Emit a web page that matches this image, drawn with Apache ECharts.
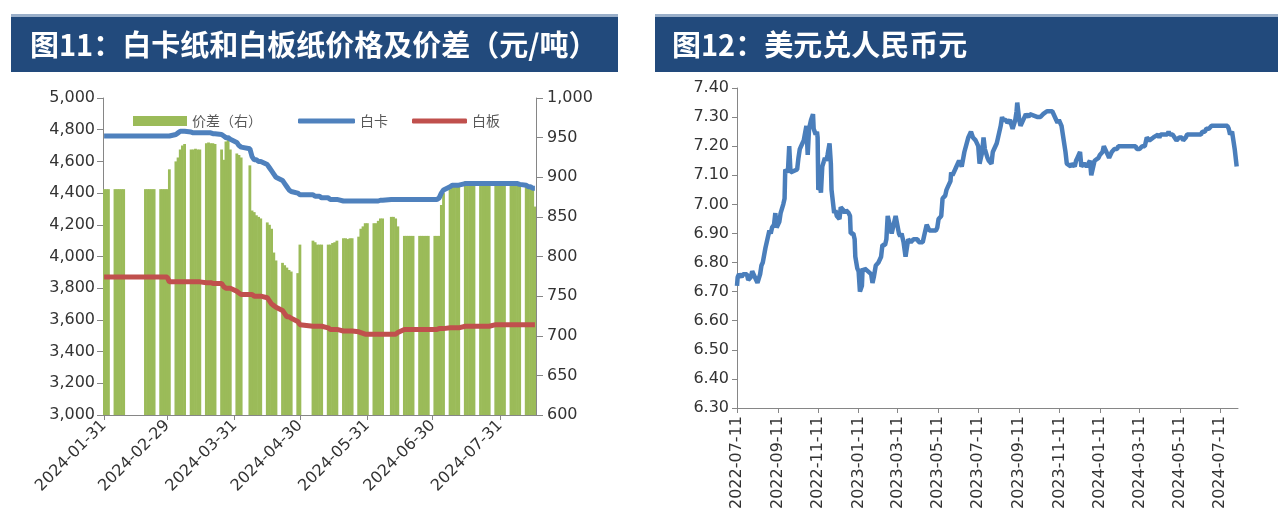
<!DOCTYPE html>
<html><head><meta charset="utf-8">
<script src="https://cdn.jsdelivr.net/npm/echarts@6/dist/echarts.min.js"></script>
<style>html,body{margin:0;padding:0;background:#fff;}#c{width:1278px;height:531px;}</style>
</head><body><div id="c"></div>
<script>
// ---------- Left chart (图11) ----------
const leftTitle = '图11：白卡纸和白板纸价格及价差（元/吨）';
const leftTickLabels = ['2024-01-31','2024-02-29','2024-03-31','2024-04-30','2024-05-31','2024-06-30','2024-07-31'];
const leftAxisStart = '2024-01-31';
const leftAxisEnd = '2024-08-16';
const leftDates = [
 '2024-01-31','2024-02-01','2024-02-02',
 '2024-02-05','2024-02-06','2024-02-07','2024-02-08','2024-02-09',
 '2024-02-19','2024-02-20','2024-02-21','2024-02-22','2024-02-23',
 '2024-02-26','2024-02-27','2024-02-28','2024-02-29','2024-03-01',
 '2024-03-04','2024-03-05','2024-03-06','2024-03-07','2024-03-08',
 '2024-03-11','2024-03-12','2024-03-13','2024-03-14','2024-03-15',
 '2024-03-18','2024-03-19','2024-03-20','2024-03-21','2024-03-22',
 '2024-03-25','2024-03-26','2024-03-27','2024-03-28','2024-03-29',
 '2024-04-01','2024-04-02','2024-04-03','2024-04-07',
 '2024-04-08','2024-04-09','2024-04-10','2024-04-11','2024-04-12',
 '2024-04-15','2024-04-16','2024-04-17','2024-04-18','2024-04-19',
 '2024-04-22','2024-04-23','2024-04-24','2024-04-25','2024-04-26',
 '2024-04-29','2024-04-30',
 '2024-05-06','2024-05-07','2024-05-08','2024-05-09','2024-05-10',
 '2024-05-13','2024-05-14','2024-05-15','2024-05-16','2024-05-17',
 '2024-05-20','2024-05-21','2024-05-22','2024-05-23','2024-05-24',
 '2024-05-27','2024-05-28','2024-05-29','2024-05-30','2024-05-31',
 '2024-06-03','2024-06-04','2024-06-05','2024-06-06','2024-06-07',
 '2024-06-11','2024-06-12','2024-06-13','2024-06-14',
 '2024-06-17','2024-06-18','2024-06-19','2024-06-20','2024-06-21',
 '2024-06-24','2024-06-25','2024-06-26','2024-06-27','2024-06-28',
 '2024-07-01','2024-07-02','2024-07-03','2024-07-04','2024-07-05',
 '2024-07-08','2024-07-09','2024-07-10','2024-07-11','2024-07-12',
 '2024-07-15','2024-07-16','2024-07-17','2024-07-18','2024-07-19',
 '2024-07-22','2024-07-23','2024-07-24','2024-07-25','2024-07-26',
 '2024-07-29','2024-07-30','2024-07-31','2024-08-01','2024-08-02',
 '2024-08-05','2024-08-06','2024-08-07','2024-08-08','2024-08-09',
 '2024-08-12','2024-08-13','2024-08-14','2024-08-15','2024-08-16'
];
const whiteCard = [
 4760,4760,4760,
 4760,4760,4760,4760,4760,
 4760,4760,4760,4760,4760,
 4760,4760,4760,4760,4760,
 4770,4780,4790,4790,4790,
 4785,4780,4780,4780,4780,
 4780,4780,4780,4775,4775,
 4770,4760,4750,4750,4740,
 4720,4700,4690,4680,
 4630,4610,4610,4600,4600,
 4580,4560,4540,4520,4500,
 4480,4460,4440,4420,4410,
 4400,4390,
 4390,4380,4380,4380,4370,
 4370,4360,4360,4360,4360,
 4350,4350,4350,4350,4350,
 4350,4350,4350,4350,4350,
 4350,4350,4350,4355,4355,
 4360,4360,4360,4360,
 4360,4360,4360,4360,4360,
 4360,4360,4360,4360,4360,
 4360,4360,4370,4400,4420,
 4440,4450,4450,4450,4450,
 4460,4460,4460,4460,4460,
 4460,4460,4460,4460,4460,
 4460,4460,4460,4460,4460,
 4460,4460,4460,4460,4455,
 4450,4440,4440,4430,4430
];
const whiteBoard = [
 3870,3870,3870,
 3870,3870,3870,3870,3870,
 3870,3870,3870,3870,3870,
 3870,3870,3870,3870,3840,
 3840,3840,3840,3840,3840,
 3840,3840,3840,3840,3840,
 3835,3835,3835,3830,3830,
 3830,3810,3800,3800,3800,
 3780,3770,3760,3760,
 3760,3750,3750,3750,3750,
 3740,3720,3700,3690,3680,
 3660,3640,3620,3620,3610,
 3590,3570,
 3560,3560,3560,3560,3560,
 3550,3540,3540,3540,3540,
 3530,3530,3530,3530,3530,
 3525,3520,3515,3510,3510,
 3510,3510,3510,3510,3510,
 3510,3510,3510,3520,
 3540,3540,3540,3540,3540,
 3540,3540,3540,3540,3540,
 3540,3540,3545,3545,3545,
 3550,3550,3550,3550,3550,
 3560,3560,3560,3560,3560,
 3560,3560,3560,3560,3560,
 3570,3570,3570,3570,3570,
 3570,3570,3570,3570,3570,
 3570,3570,3570,3570,3570
];
const spread = [
 885,885,885,
 885,885,885,885,885,
 885,885,885,885,885,
 885,885,885,885,910,
 920,925,935,940,942,
 935,935,936,935,935,
 943,944,943,943,942,
 935,922,945,947,935,
 930,928,925,915,
 858,856,852,850,848,
 843,840,835,805,795,
 792,789,786,783,781,
 779,815,
 820,818,815,815,815,
 815,815,817,818,820,
 823,823,822,823,823,
 825,835,838,842,842,
 842,842,845,848,848,
 850,850,848,838,
 826,826,826,826,826,
 826,826,826,826,826,
 826,826,826,865,880,
 885,890,890,890,890,
 895,895,895,895,895,
 893,893,893,893,893,
 892,892,892,892,892,
 890,890,890,890,890,
 888,888,888,887,863
];

// ---------- Right chart (图12) ----------
const rightTitle = '图12：美元兑人民币元';
const rightTickLabels = ['2022-07-11','2022-09-11','2022-11-11','2023-01-11','2023-03-11','2023-05-11','2023-07-11','2023-09-11','2023-11-11','2024-01-11','2024-03-11','2024-05-11','2024-07-11'];
const rightAxisStart = '2022-07-11';
const rightAxisEnd = '2024-08-07';
const fxDates = [
 '2022-07-11','2022-07-12','2022-07-14','2022-07-18','2022-07-20','2022-07-22','2022-07-26','2022-07-28',
 '2022-08-01','2022-08-03','2022-08-05','2022-08-09','2022-08-11','2022-08-15','2022-08-17','2022-08-19',
 '2022-08-23','2022-08-25','2022-08-29','2022-08-31','2022-09-02','2022-09-05','2022-09-07','2022-09-09',
 '2022-09-13','2022-09-15','2022-09-19','2022-09-21','2022-09-22','2022-09-26','2022-09-28','2022-09-30',
 '2022-10-10','2022-10-12','2022-10-14','2022-10-18','2022-10-20','2022-10-24','2022-10-26','2022-10-28',
 '2022-10-31','2022-11-03','2022-11-04','2022-11-07','2022-11-09','2022-11-10','2022-11-11','2022-11-14',
 '2022-11-15','2022-11-17','2022-11-21','2022-11-23','2022-11-25','2022-11-28','2022-11-30','2022-12-01',
 '2022-12-05','2022-12-07','2022-12-09','2022-12-13','2022-12-15','2022-12-19','2022-12-21','2022-12-23',
 '2022-12-27','2022-12-29','2022-12-30',
 '2023-01-03','2023-01-05','2023-01-06','2023-01-09','2023-01-11','2023-01-13','2023-01-16','2023-01-17',
 '2023-01-19','2023-01-20','2023-01-30','2023-02-01','2023-02-03','2023-02-06','2023-02-08','2023-02-10',
 '2023-02-14','2023-02-16','2023-02-20','2023-02-22','2023-02-24','2023-02-28','2023-03-02','2023-03-06',
 '2023-03-08','2023-03-10','2023-03-13','2023-03-15','2023-03-17','2023-03-20','2023-03-22','2023-03-23',
 '2023-03-27','2023-03-29','2023-03-31','2023-04-04','2023-04-06','2023-04-10','2023-04-12','2023-04-14',
 '2023-04-18','2023-04-20','2023-04-24','2023-04-26','2023-04-28','2023-05-04','2023-05-08','2023-05-10',
 '2023-05-12','2023-05-16','2023-05-18','2023-05-22','2023-05-24','2023-05-26','2023-05-30','2023-05-31',
 '2023-06-02','2023-06-06','2023-06-08','2023-06-12','2023-06-14','2023-06-16','2023-06-20','2023-06-26',
 '2023-06-28','2023-06-30','2023-07-03','2023-07-05','2023-07-07','2023-07-11','2023-07-13','2023-07-17',
 '2023-07-19','2023-07-21','2023-07-25','2023-07-27','2023-07-31','2023-08-02','2023-08-04','2023-08-08',
 '2023-08-10','2023-08-14','2023-08-16','2023-08-18','2023-08-22','2023-08-24','2023-08-28','2023-08-30',
 '2023-09-01','2023-09-05','2023-09-07','2023-09-08','2023-09-11','2023-09-13','2023-09-15','2023-09-19',
 '2023-09-21','2023-09-25','2023-09-27','2023-10-09','2023-10-11','2023-10-13','2023-10-17','2023-10-19',
 '2023-10-23','2023-10-25','2023-10-27','2023-10-31','2023-11-02','2023-11-06','2023-11-08','2023-11-10',
 '2023-11-14','2023-11-16','2023-11-20','2023-11-22','2023-11-24','2023-11-28','2023-11-30','2023-12-04',
 '2023-12-06','2023-12-08','2023-12-12','2023-12-14','2023-12-18','2023-12-20','2023-12-22','2023-12-27',
 '2023-12-29',
 '2024-01-03','2024-01-05','2024-01-09','2024-01-11','2024-01-15','2024-01-17','2024-01-19','2024-01-23',
 '2024-01-25','2024-01-29','2024-01-31','2024-02-02','2024-02-06','2024-02-08','2024-02-19','2024-02-21',
 '2024-02-23','2024-02-27','2024-03-01','2024-03-05','2024-03-07','2024-03-11','2024-03-13','2024-03-15',
 '2024-03-19','2024-03-21','2024-03-22','2024-03-26','2024-03-28','2024-04-01','2024-04-03','2024-04-08',
 '2024-04-10','2024-04-12','2024-04-16','2024-04-18','2024-04-22','2024-04-24','2024-04-26','2024-04-30',
 '2024-05-06','2024-05-08','2024-05-10','2024-05-14','2024-05-16','2024-05-20','2024-05-22','2024-05-24',
 '2024-05-28','2024-05-30','2024-06-03','2024-06-05','2024-06-07','2024-06-12','2024-06-14','2024-06-18',
 '2024-06-20','2024-06-24','2024-06-26','2024-06-28','2024-07-02','2024-07-04','2024-07-08','2024-07-10',
 '2024-07-12','2024-07-16','2024-07-18','2024-07-22','2024-07-24','2024-07-26','2024-07-29','2024-07-31',
 '2024-08-01','2024-08-02','2024-08-05'
];
const fxValues = [
 6.72,6.75,6.76,6.75,6.76,6.76,6.76,6.74,
 6.75,6.77,6.76,6.74,6.73,6.76,6.79,6.80,
 6.85,6.85,6.91,6.90,6.92,6.93,6.97,6.92,
 6.94,6.97,7.00,7.02,7.12,7.11,7.20,7.11,
 7.12,7.16,7.19,7.21,7.22,7.27,7.17,7.26,
 7.29,7.31,7.26,7.24,7.25,7.23,7.05,7.06,
 7.04,7.13,7.16,7.15,7.17,7.21,7.14,7.05,
 6.97,6.98,6.96,6.95,6.99,6.98,6.97,6.98,
 6.97,6.96,6.90,
 6.90,6.88,6.82,6.78,6.77,6.70,6.72,6.78,
 6.77,6.78,6.76,6.73,6.75,6.79,6.79,6.80,
 6.82,6.86,6.86,6.88,6.96,6.92,6.90,6.94,
 6.96,6.96,6.90,6.89,6.90,6.87,6.87,6.82,
 6.88,6.88,6.87,6.88,6.88,6.88,6.87,6.87,
 6.87,6.89,6.93,6.93,6.91,6.91,6.91,6.92,
 6.95,6.96,7.02,7.03,7.05,7.06,7.08,7.11,
 7.10,7.12,7.13,7.15,7.15,7.13,7.18,7.23,
 7.23,7.25,7.23,7.23,7.22,7.20,7.14,7.18,
 7.23,7.19,7.16,7.15,7.14,7.18,7.18,7.21,
 7.23,7.27,7.30,7.29,7.29,7.28,7.29,7.29,
 7.26,7.29,7.32,7.35,7.29,7.27,7.27,7.30,
 7.31,7.30,7.31,7.30,7.30,7.30,7.31,7.31,
 7.32,7.32,7.32,7.32,7.32,7.29,7.28,7.29,
 7.27,7.24,7.18,7.14,7.14,7.13,7.14,7.13,
 7.15,7.16,7.18,7.13,7.14,7.14,7.13,7.15,
 7.10,
 7.15,7.15,7.16,7.17,7.18,7.20,7.20,7.17,
 7.16,7.18,7.18,7.19,7.19,7.20,7.20,7.20,
 7.20,7.20,7.20,7.20,7.19,7.19,7.19,7.20,
 7.20,7.20,7.23,7.22,7.22,7.23,7.23,7.24,
 7.23,7.24,7.24,7.24,7.24,7.25,7.24,7.24,
 7.22,7.22,7.23,7.23,7.22,7.23,7.24,7.24,
 7.24,7.24,7.24,7.24,7.24,7.24,7.25,7.25,
 7.26,7.26,7.26,7.27,7.27,7.27,7.27,7.27,
 7.27,7.27,7.27,7.27,7.26,7.24,7.25,7.22,
 7.22,7.19,7.13
];

// ---------- helpers ----------
function dayList(start, end) {
  const out = [];
  let t = Date.parse(start + 'T00:00:00Z');
  const e = Date.parse(end + 'T00:00:00Z');
  while (t <= e) { out.push(new Date(t).toISOString().slice(0, 10)); t += 86400000; }
  return out;
}
function align(cats, dates, vals) {
  const m = {};
  dates.forEach((d, i) => { m[d] = vals[i]; });
  return cats.map(c => (c in m ? m[c] : null));
}
const leftCats = dayList(leftAxisStart, leftAxisEnd);
const rightCats = dayList(rightAxisStart, rightAxisEnd);
const leftShow = (i, v) => leftTickLabels.indexOf(v) >= 0;
const rightShow = (i, v) => rightTickLabels.indexOf(v) >= 0;

const axisGray = '#868686';
const labelColor = '#333333';
const numFont = 'DejaVu Sans';
const cjkFont = 'Noto Sans CJK SC';
const comma = v => Math.round(v).toLocaleString('en-US');

const chart = echarts.init(document.getElementById('c'), null, {renderer: 'canvas'});
chart.setOption({
  animation: false,
  backgroundColor: '#ffffff',
  textStyle: {fontFamily: numFont},
  graphic: [
    {type: 'rect', shape: {x: 11, y: 14, width: 607, height: 3}, style: {fill: '#9AAFC9'}},
    {type: 'rect', shape: {x: 11, y: 17, width: 607, height: 55}, style: {fill: '#224A7C'}},
    {type: 'text', x: 30, y: 45, style: {text: leftTitle, fill: '#ffffff', font: 'bold 29px "Noto Sans CJK SC"', verticalAlign: 'middle'}},
    {type: 'rect', shape: {x: 655, y: 14, width: 623, height: 3}, style: {fill: '#9AAFC9'}},
    {type: 'rect', shape: {x: 655, y: 17, width: 623, height: 55}, style: {fill: '#224A7C'}},
    {type: 'text', x: 672, y: 45, style: {text: rightTitle, fill: '#ffffff', font: 'bold 29px "Noto Sans CJK SC"', verticalAlign: 'middle'}}
  ],
  legend: [
    {data: ['价差（右）'], left: 128, top: 109, icon: 'rect', itemWidth: 54, itemHeight: 10, textStyle: {fontFamily: cjkFont, fontSize: 14, color: '#595959'}},
    {data: ['白卡'], left: 293, top: 109, icon: 'roundRect', itemWidth: 57, itemHeight: 5, textStyle: {fontFamily: cjkFont, fontSize: 14, color: '#595959'}},
    {data: ['白板'], left: 407, top: 109, icon: 'roundRect', itemWidth: 55, itemHeight: 5, textStyle: {fontFamily: cjkFont, fontSize: 14, color: '#595959'}}
  ],
  grid: [
    {left: 103, top: 98, width: 433, height: 317},
    {left: 737, top: 88, width: 501, height: 320}
  ],
  xAxis: [
    {
      type: 'category', gridIndex: 0, data: leftCats, boundaryGap: true,
      axisLine: {show: true, lineStyle: {color: axisGray, width: 1}},
      axisTick: {show: true, alignWithLabel: true, interval: leftShow, length: 5, lineStyle: {color: axisGray}},
      axisLabel: {interval: leftShow, rotate: 45, fontSize: 16, color: labelColor, margin: 8, fontFamily: numFont},
      splitLine: {show: false}
    },
    {
      type: 'category', gridIndex: 1, data: rightCats, boundaryGap: false,
      axisLine: {show: true, lineStyle: {color: axisGray, width: 1}},
      axisTick: {show: true, interval: rightShow, length: 5, lineStyle: {color: axisGray}},
      axisLabel: {interval: rightShow, rotate: 90, fontSize: 16, color: labelColor, margin: 8, fontFamily: numFont},
      splitLine: {show: false}
    }
  ],
  yAxis: [
    {
      type: 'value', gridIndex: 0, position: 'left', min: 3000, max: 5000, interval: 200,
      axisLine: {show: true, lineStyle: {color: axisGray}},
      axisTick: {show: true, length: 6, lineStyle: {color: axisGray}},
      axisLabel: {fontSize: 16, color: labelColor, margin: 8, formatter: comma},
      splitLine: {show: false}
    },
    {
      type: 'value', gridIndex: 0, position: 'right', min: 600, max: 1000, interval: 50,
      axisLine: {show: true, lineStyle: {color: axisGray}},
      axisTick: {show: true, length: 7, lineStyle: {color: axisGray}},
      axisLabel: {fontSize: 16, color: labelColor, margin: 11, formatter: comma},
      splitLine: {show: false}
    },
    {
      type: 'value', gridIndex: 1, position: 'left', min: 6.3, max: 7.4, interval: 0.1,
      axisLine: {show: true, lineStyle: {color: axisGray}},
      axisTick: {show: true, length: 5, lineStyle: {color: axisGray}},
      axisLabel: {fontSize: 16, color: labelColor, margin: 8, formatter: v => v.toFixed(2)},
      splitLine: {show: false}
    }
  ],
  series: [
    {
      name: '价差（右）', type: 'bar', xAxisIndex: 0, yAxisIndex: 1,
      data: align(leftCats, leftDates, spread),
      barWidth: 2.8, itemStyle: {color: '#9BBB59'}
    },
    {
      name: '白卡', type: 'line', xAxisIndex: 0, yAxisIndex: 0,
      data: align(leftCats, leftDates, whiteCard), connectNulls: true,
      symbol: 'none', lineStyle: {color: '#4F81BD', width: 5}, itemStyle: {color: '#4F81BD'}
    },
    {
      name: '白板', type: 'line', xAxisIndex: 0, yAxisIndex: 0,
      data: align(leftCats, leftDates, whiteBoard), connectNulls: true,
      symbol: 'none', lineStyle: {color: '#C0504D', width: 5}, itemStyle: {color: '#C0504D'}
    },
    {
      name: '美元兑人民币', type: 'line', xAxisIndex: 1, yAxisIndex: 2,
      data: align(rightCats, fxDates, fxValues), connectNulls: true,
      symbol: 'none', lineStyle: {color: '#4A7EBB', width: 4.5}, itemStyle: {color: '#4A7EBB'}
    }
  ]
});
</script>
</body></html>
